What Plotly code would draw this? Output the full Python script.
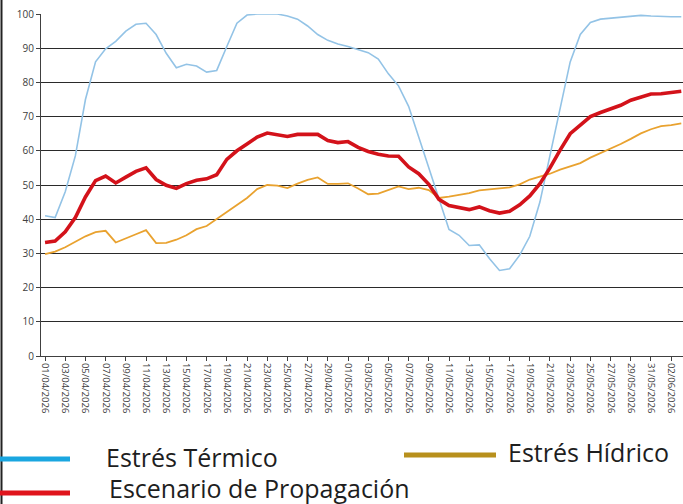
import datetime as dt
import plotly.graph_objects as go

# categories: daily dates 01/04/2026 .. 03/06/2026
start = dt.date(2026, 4, 1)
dates = [(start + dt.timedelta(days=i)).strftime("%d/%m/%Y") for i in range(64)]
tick_labels = dates[::2]

estres_termico = [
    41, 40.5, 48, 58.5, 75, 86, 89.8, 92, 95, 97,
    97.3, 94, 88.5, 84.3, 85.3, 84.8, 83, 83.5, 90.5, 97.3,
    99.7, 100, 100, 100, 99.4, 98.5, 96.5, 94, 92.3, 91.2,
    90.5, 89.7, 88.7, 86.8, 82.5, 79, 73, 64, 55, 45.5,
    37, 35.3, 32.3, 32.5, 28.5, 25, 25.5, 29.5, 35, 45,
    59, 72, 86, 94, 97.5, 98.5, 98.8, 99, 99.3, 99.6,
    99.4, 99.2, 99.2, 99.2,
]
estres_hidrico = [
    29.8, 30.5, 31.8, 33.4, 35, 36.2, 36.6, 33.2, 34.3, 35.6,
    36.8, 33, 33.1, 34, 35.3, 37.1, 38, 40, 42, 44.2,
    46.2, 48.8, 50, 49.8, 49.1, 50.4, 51.5, 52.2, 50.3, 50.3,
    50.5, 49, 47.3, 47.5, 48.5, 49.6, 48.8, 49.2, 48.5, 46.2,
    46.6, 47, 47.6, 48.4, 48.8, 49, 49.3, 50.2, 51.6, 52.4,
    53.3, 54.5, 55.5, 56.4, 58, 59.3, 60.5, 62, 63.5, 65.1,
    66.3, 67.2, 67.5, 68,
]
escenario = [
    33.2, 33.6, 36.3, 40.5, 46.5, 51.3, 52.6, 50.6, 52.3, 54,
    55, 51.6, 49.9, 49, 50.4, 51.4, 51.8, 53, 57.5, 60,
    62, 64, 65.2, 64.8, 64.2, 64.8, 64.8, 64.8, 63, 62.4,
    62.7, 61, 59.8, 59, 58.5, 58.4, 55.3, 53.3, 50.2, 45.8,
    44, 43.4, 42.8, 43.6, 42.5, 41.8, 42.3, 44.2, 46.8, 50.4,
    55, 60.2, 65, 67.5, 70, 71.2, 72.2, 73.3, 74.8, 75.8,
    76.6, 76.7, 77, 77.4,
]

y_ticks = list(range(0, 101, 10))

W, H = 683, 504
L, R, T, B = 41, 0, 14, 148
pw, ph = W - L - R, H - T - B


def px(x):
    return (x - L) / pw


def py(y):
    return (H - B - y) / ph


fig = go.Figure()
fig.add_trace(go.Scatter(x=dates, y=estres_termico, mode="lines", name="Estrés Térmico",
                         line=dict(color="#93c3e6", width=1.6)))
fig.add_trace(go.Scatter(x=dates, y=estres_hidrico, mode="lines", name="Estrés Hídrico",
                         line=dict(color="#e9a22f", width=1.8)))
fig.add_trace(go.Scatter(x=dates, y=escenario, mode="lines", name="Escenario de Propagación",
                         line=dict(color="#d3121a", width=3.6)))

fig.update_layout(
    width=W, height=H,
    margin=dict(l=L, r=R, t=T, b=B, pad=0),
    paper_bgcolor="white", plot_bgcolor="white",
    showlegend=False,
    font=dict(family="Open Sans", color="#404040"),
    xaxis=dict(
        type="category", range=[-0.4, 63.17], automargin=False,
        tickmode="array", tickvals=tick_labels, ticktext=tick_labels,
        tickangle=90, tickfont=dict(size=9.5, color="#404040", family="Open Sans"),
        showgrid=False, showline=True, linecolor="#404040", linewidth=1,
        ticks="outside", ticklen=4, tickcolor="#404040",
    ),
    yaxis=dict(
        range=[0, 100], tickvals=y_ticks, automargin=False,
        tickfont=dict(size=10, color="#404040", family="Open Sans"),
        showgrid=True, gridcolor="#2a2a2a", gridwidth=1,
        showline=True, linecolor="#404040", linewidth=1,
        ticks="outside", ticklen=4, tickcolor="#404040",
        zeroline=False,
    ),
)

shapes = [
    # left frame border
    dict(type="line", xref="paper", yref="paper", x0=px(1.5), x1=px(1.5), y0=py(0), y1=py(504),
         line=dict(color="#222222", width=2)),
    # legend line samples
    dict(type="line", xref="paper", yref="paper", x0=px(0), x1=px(70), y0=py(459), y1=py(459),
         line=dict(color="#1aa6e0", width=5)),
    dict(type="line", xref="paper", yref="paper", x0=px(404), x1=px(496), y0=py(455), y1=py(455),
         line=dict(color="#b8901c", width=5)),
    dict(type="line", xref="paper", yref="paper", x0=px(0), x1=px(70), y0=py(493), y1=py(493),
         line=dict(color="#e0141c", width=5)),
]
fig.update_layout(shapes=shapes)

leg_font = dict(family="Open Sans", size=25, color="#1e1e1e")
annotations = [
    dict(text="Estrés Térmico", x=px(104), y=py(457), xanchor="left", yanchor="middle"),
    dict(text="Estrés Hídrico", x=px(506), y=py(452), xanchor="left", yanchor="middle"),
    dict(text="Escenario de Propagación", x=px(107), y=py(488), xanchor="left", yanchor="middle"),
]
for a in annotations:
    fig.add_annotation(xref="paper", yref="paper", showarrow=False, font=leg_font, **a)

fig.write_html("out.html", config={"displayModeBar": False},
               post_script="document.body.style.margin='0';document.body.style.overflow='hidden';")
